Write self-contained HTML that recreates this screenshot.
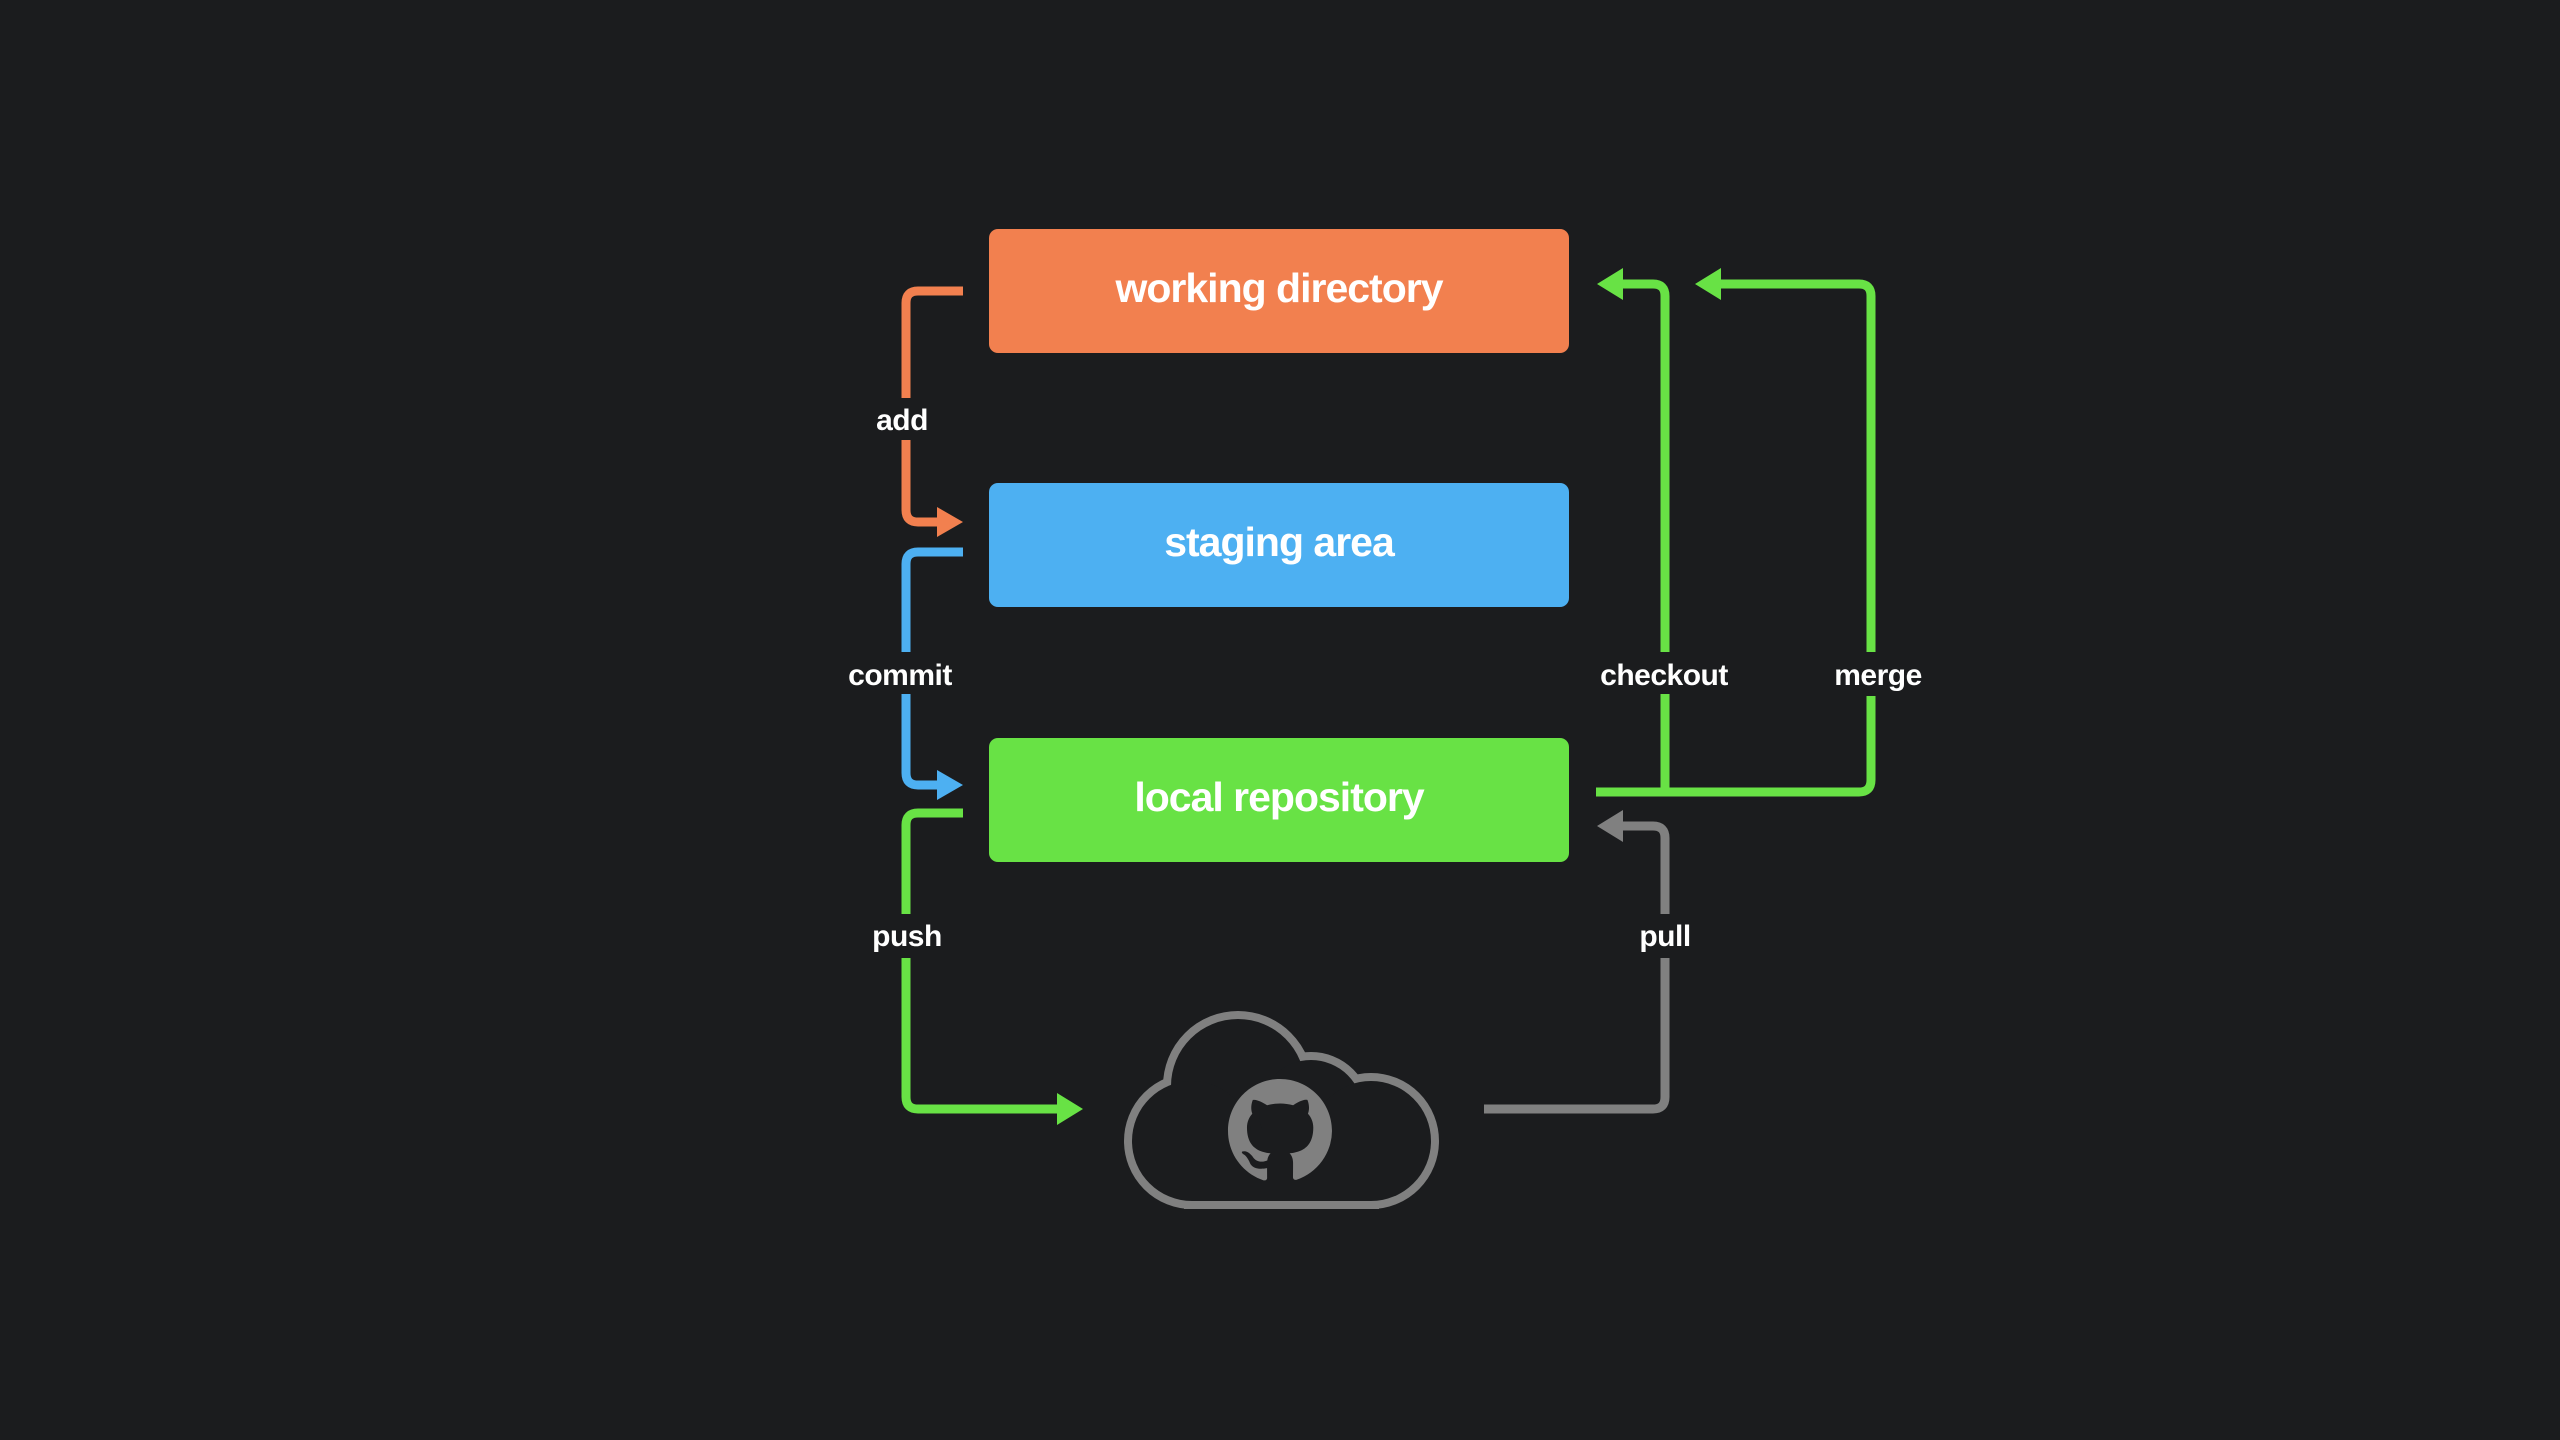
<!DOCTYPE html>
<html><head><meta charset="utf-8"><style>
html,body{margin:0;padding:0;background:#1b1c1e;}
svg{display:block}
.box{font-family:"Liberation Sans",sans-serif;font-weight:bold;font-size:41px;fill:#fff;letter-spacing:-1px}
.lbl{font-family:"Liberation Sans",sans-serif;font-weight:bold;font-size:30px;fill:#fff;letter-spacing:-0.5px}
</style></head><body>
<svg width="2560" height="1440" viewBox="0 0 2560 1440" xmlns="http://www.w3.org/2000/svg">
<rect width="2560" height="1440" fill="#1b1c1e"/>
<rect x="989" y="229" width="580" height="124" rx="9" fill="#f2804f"/>
<rect x="989" y="483" width="580" height="124" rx="9" fill="#4db0f2"/>
<rect x="989" y="738" width="580" height="124" rx="9" fill="#68e245"/>
<text class="box" x="1279" y="302" text-anchor="middle">working directory</text>
<text class="box" x="1279" y="556" text-anchor="middle">staging area</text>
<text class="box" x="1279" y="811" text-anchor="middle">local repository</text>
<g fill="none" stroke-width="9" stroke-linejoin="round">
<path d="M963 291 H918 Q906 291 906 303 V510 Q906 522 918 522 H945" stroke="#f2804f"/>
<path d="M963 552 H918 Q906 552 906 564 V773 Q906 785 918 785 H945" stroke="#4db0f2"/>
<path d="M963 813 H918 Q906 813 906 825 V1097 Q906 1109 918 1109 H1065" stroke="#68e245"/>
<path d="M1484 1109 H1653 Q1665 1109 1665 1097 V838 Q1665 826 1653 826 H1615" stroke="#808080"/>
<path d="M1596 792 H1859 Q1871 792 1871 780 V296 Q1871 284 1859 284 H1713" stroke="#68e245"/>
<path d="M1665 792 V296 Q1665 284 1653 284 H1615" stroke="#68e245"/>
</g>
<polygon points="963,522 937,507 937,537" fill="#f2804f"/>
<polygon points="963,785 937,770 937,800" fill="#4db0f2"/>
<polygon points="1083,1109 1057,1093 1057,1125" fill="#68e245"/>
<polygon points="1597,826 1623,810 1623,842" fill="#808080"/>
<polygon points="1597,284 1623,268 1623,300" fill="#68e245"/>
<polygon points="1695,284 1721,268 1721,300" fill="#68e245"/>
<g fill="#1b1c1e">
<rect x="870" y="398" width="64" height="42"/>
<rect x="840" y="652" width="122" height="42"/>
<rect x="868" y="914" width="76" height="44"/>
<rect x="1634" y="914" width="62" height="44"/>
<rect x="1594" y="652" width="140" height="42"/>
<rect x="1828" y="652" width="100" height="44"/>
</g>
<text class="lbl" x="902" y="430" text-anchor="middle">add</text>
<text class="lbl" x="900" y="685" text-anchor="middle">commit</text>
<text class="lbl" x="907" y="946" text-anchor="middle">push</text>
<text class="lbl" x="1665" y="946" text-anchor="middle">pull</text>
<text class="lbl" x="1664" y="685" text-anchor="middle">checkout</text>
<text class="lbl" x="1878" y="685" text-anchor="middle">merge</text>
<g stroke="#808080" stroke-width="16" fill="#808080">
<circle cx="1238" cy="1086" r="67"/>
<circle cx="1311" cy="1112" r="52"/>
<circle cx="1371" cy="1141" r="60"/>
<circle cx="1192" cy="1141" r="60"/>
<rect x="1192" y="1130" width="179" height="71"/>
</g>
<g fill="#1b1c1e">
<circle cx="1238" cy="1086" r="67"/>
<circle cx="1311" cy="1112" r="52"/>
<circle cx="1371" cy="1141" r="60"/>
<circle cx="1192" cy="1141" r="60"/>
<rect x="1192" y="1130" width="179" height="71"/>
</g>
<g transform="translate(1228,1079) scale(6.5)">
<path fill="#808080" fill-rule="evenodd" d="M8 0C3.58 0 0 3.58 0 8c0 3.54 2.29 6.53 5.47 7.59.4.07.55-.17.55-.38 0-.19-.01-.82-.01-1.49-2.010.37-2.53-.49-2.69-.94-.09-.23-.48-.94-.82-1.13-.28-.15-.68-.52-.01-.53.63-.01 1.08.58 1.23.73.72 1.21 1.87.87 2.33.66.07-.52.28-.87.51-1.07-1.78-.2-3.64-.89-3.64-3.95 0-.87.31-1.59.82-2.15-.08-.2-.36-1.02.08-2.12 0 0 .67-.21 2.2.82.64-.18 1.32-.27 2-.27.68 0 1.36.09 2 .27 1.53-1.04 2.2-.82 2.2-.82.44 1.1.16 1.92.08 2.12.51.56.82 1.27.82 2.15 0 3.07-1.87 3.75-3.65 3.95.29.25.54.73.54 1.48 0 1.07-.01 1.930-.01 2.2 0 .21.15.46.55.38A8.013 8.013 0 0016 8c0-4.42-3.58-8-8-8z"/>
</g>
</svg>
</body></html>
